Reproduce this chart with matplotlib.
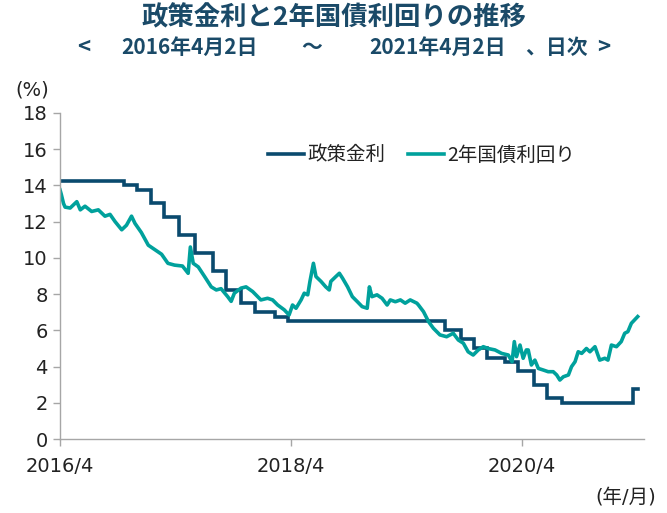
import matplotlib
matplotlib.use("Agg")
import matplotlib.pyplot as plt
import pandas as pd

# --- data -------------------------------------------------------------
policy_dates = ["2016-04-01", "2016-10-20", "2016-12-01", "2017-01-12", "2017-02-23",
                "2017-04-13", "2017-06-01", "2017-07-27", "2017-09-07", "2017-10-26",
                "2017-12-07", "2018-02-08", "2018-03-22", "2019-08-01", "2019-09-19",
                "2019-10-31", "2019-12-12", "2020-02-06", "2020-03-19", "2020-05-07",
                "2020-06-18", "2020-08-06", "2021-03-18", "2021-04-02"]
policy_rate = [14.25, 14.00, 13.75, 13.00, 12.25, 11.25, 10.25, 9.25, 8.25, 7.50,
               7.00, 6.75, 6.50, 6.00, 5.50, 5.00, 4.50, 4.25, 3.75, 3.00,
               2.25, 2.00, 2.75, 2.75]

bond_dates = ["2016-04-01", "2016-04-05", "2016-04-12", "2016-04-17", "2016-05-03",
              "2016-05-24", "2016-06-04", "2016-06-19", "2016-07-10", "2016-07-31",
              "2016-08-21", "2016-09-06", "2016-09-22", "2016-10-13", "2016-10-28",
              "2016-11-13", "2016-11-24", "2016-12-14", "2017-01-05", "2017-01-26",
              "2017-02-16", "2017-03-08", "2017-03-29", "2017-04-23", "2017-05-11",
              "2017-05-18", "2017-05-27", "2017-06-12", "2017-07-02", "2017-07-23",
              "2017-08-08", "2017-08-23", "2017-09-13", "2017-09-24", "2017-10-04",
              "2017-10-25", "2017-11-10", "2017-12-01", "2017-12-27", "2018-01-17",
              "2018-02-02", "2018-02-18", "2018-03-11", "2018-03-26", "2018-04-06",
              "2018-04-17", "2018-05-03", "2018-05-13", "2018-05-24", "2018-05-31",
              "2018-06-11", "2018-06-19", "2018-07-05", "2018-07-20", "2018-07-31",
              "2018-08-05", "2018-08-21", "2018-09-01", "2018-09-11", "2018-09-27",
              "2018-10-12", "2018-10-28", "2018-11-12", "2018-11-28", "2018-12-05",
              "2018-12-13", "2018-12-29", "2019-01-14", "2019-01-30", "2019-02-09",
              "2019-02-25", "2019-03-13", "2019-03-28", "2019-04-13", "2019-05-04",
              "2019-05-09", "2019-05-25", "2019-06-10", "2019-06-25", "2019-07-16",
              "2019-08-06", "2019-08-27", "2019-09-12", "2019-09-28", "2019-10-13",
              "2019-10-29", "2019-11-14", "2019-11-30", "2019-12-15", "2020-01-06",
              "2020-01-27", "2020-02-17", "2020-02-29", "2020-03-07", "2020-03-14",
              "2020-03-25", "2020-04-04", "2020-04-14", "2020-04-20", "2020-04-30",
              "2020-05-11", "2020-05-22", "2020-06-07", "2020-06-22", "2020-07-08",
              "2020-07-19", "2020-07-29", "2020-08-09", "2020-08-25", "2020-09-04",
              "2020-09-15", "2020-09-25", "2020-10-06", "2020-10-21", "2020-11-01",
              "2020-11-17", "2020-12-02", "2020-12-18", "2020-12-28", "2021-01-08",
              "2021-01-24", "2021-02-08", "2021-02-19", "2021-03-01", "2021-03-12",
              "2021-04-01"]
bond_yield = [13.75, 13.5, 13.0, 12.8, 12.75,
              13.1, 12.65, 12.85, 12.56, 12.65,
              12.3, 12.4, 12.0, 11.55, 11.8,
              12.3, 11.9, 11.4, 10.7, 10.45,
              10.2, 9.7, 9.6, 9.55, 9.15,
              10.6, 9.7, 9.5, 8.97, 8.4,
              8.23, 8.3, 7.86, 7.6, 8.05,
              8.33, 8.4, 8.14, 7.68, 7.77,
              7.68, 7.4, 7.13, 6.85, 7.4,
              7.22, 7.68, 8.05, 7.96, 8.7,
              9.7, 8.97, 8.7, 8.4, 8.23,
              8.7, 8.97, 9.15, 8.88, 8.4,
              7.86, 7.58, 7.31, 7.22, 8.4,
              7.86, 7.96, 7.77, 7.4, 7.68,
              7.58, 7.68, 7.5, 7.68, 7.5,
              7.4, 7.03, 6.48, 6.12, 5.75,
              5.65, 5.84, 5.47, 5.29, 4.82,
              4.64, 4.92, 5.1, 5.0, 4.92,
              4.73, 4.64, 4.27, 5.38, 4.55,
              5.19, 4.46, 4.92, 4.92, 4.09,
              4.36, 3.9, 3.81, 3.72, 3.72,
              3.54, 3.26, 3.44, 3.54, 4.0,
              4.27, 4.82, 4.73, 5.0, 4.82,
              5.1, 4.36, 4.46, 4.36, 5.19,
              5.1, 5.38, 5.84, 5.93, 6.39,
              6.76]

y_ticks = [0, 2, 4, 6, 8, 10, 12, 14, 16, 18]
x_tick_dates = ["2016-04-01", "2018-04-01", "2020-04-01"]
x_tick_labels = ["2016/4", "2018/4", "2020/4"]

title = "政策金利と2年国債利回りの推移"
series_names = ["政策金利", "2年国債利回り"]

# --- style ------------------------------------------------------------
CJK = "Noto Sans CJK JP"
plt.rcParams["font.family"] = ["DejaVu Sans", CJK]
navy = "#0a4a6e"
teal = "#00a19c"
txt_dark = "#1a4a68"

fig = plt.figure(figsize=(6.67, 5.13), dpi=100)
ax = fig.add_axes([0.090, 0.144, 0.876, 0.636])

pd_dates = pd.to_datetime(policy_dates)
bd_dates = pd.to_datetime(bond_dates)
ax.plot(pd_dates, policy_rate, drawstyle="steps-post", color=navy, lw=2.6,
        label=series_names[0], solid_joinstyle="miter")
ax.plot(bd_dates, bond_yield, color=teal, lw=2.6, label=series_names[1])

ax.set_xlim(pd.Timestamp("2016-04-01"), pd.Timestamp("2021-04-22"))
ax.set_ylim(0, 18)
ax.set_yticks(y_ticks)
ax.set_yticklabels([str(v) for v in y_ticks])
ax.set_xticks(pd.to_datetime(x_tick_dates))
ax.set_xticklabels(x_tick_labels)

for s in ["top", "right"]:
    ax.spines[s].set_visible(False)
for s in ["left", "bottom"]:
    ax.spines[s].set_color("#a6a6a6")
    ax.spines[s].set_linewidth(1.0)
ax.tick_params(axis="both", colors="#a6a6a6", labelcolor="#222222",
               labelsize=14, length=5, width=1.0, direction="out")
ax.tick_params(axis="x", pad=8)
ax.tick_params(axis="y", pad=4)

leg = ax.legend(loc="center left", bbox_to_anchor=(0.356, 0.871), ncol=2,
                frameon=False, borderpad=0, borderaxespad=0,
                handlelength=1.85, handletextpad=0.15, columnspacing=1.2,
                prop={"family": [CJK], "size": 14})
for t in leg.get_texts():
    t.set_color("#222222")

fig.text(0.5, 0.965, title, ha="center", va="center", fontsize=19,
         fontweight="bold", color=txt_dark, family=[CJK])
sub_y = 0.908
for xpix, s, fs in [(84, "<", 16), (190, "2016年4月2日", 15), (312, "～", 15),
                    (438, "2021年4月2日", 15), (556, "、日次", 15), (604, ">", 16)]:
    fig.text(xpix / 667, sub_y, s, ha="center", va="center", fontsize=fs,
             fontweight="bold", color=txt_dark, family=[CJK, "DejaVu Sans"])

fig.text(32 / 667, 1 - 90 / 513, "(%)", ha="center", va="center",
         fontsize=14, color="#222222")
fig.text(656 / 667, 1 - 497 / 513, "(年/月)", ha="right", va="center",
         fontsize=14, color="#222222", family=["DejaVu Sans", CJK])

fig.savefig("out.png", dpi=100)
